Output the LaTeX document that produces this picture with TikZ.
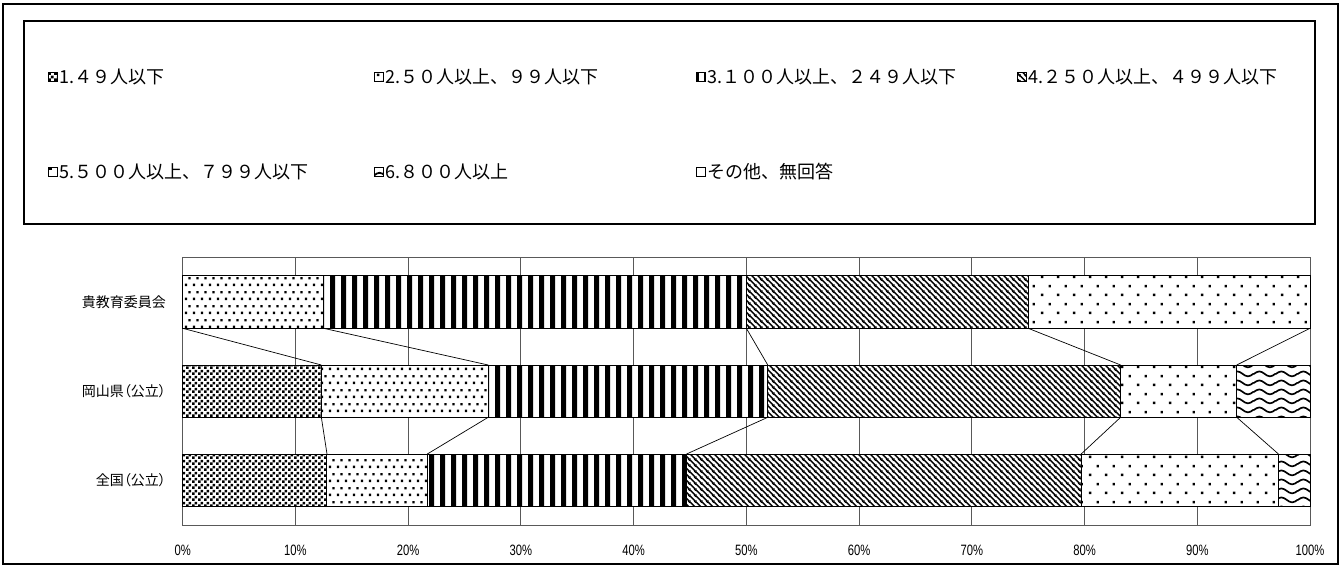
\documentclass[tikz,border=0pt]{standalone}
\usepackage{fontspec}
\setmainfont{Noto Sans CJK JP}
\newfontfamily\catfont[RawFeature=+palt]{Noto Sans CJK JP}
\newfontfamily\tickfont[FakeStretch=0.75]{Liberation Sans}
\usetikzlibrary{patterns.meta}

% fill patterns of the six answer groups
\tikzdeclarepattern{name=chk, type=uncolored,
  bounding box={(0pt,0pt) and (6pt,6pt)}, tile size={(6pt,6pt)},
  code={\fill (0pt,0pt) rectangle (3pt,3pt); \fill (3pt,3pt) rectangle (6pt,6pt);}}
\tikzdeclarepattern{name=dts, type=uncolored,
  bounding box={(0pt,0pt) and (8pt,14pt)}, tile size={(8pt,14pt)},
  code={\fill (1pt,1pt) rectangle (3.5pt,3.5pt); \fill (5pt,8pt) rectangle (7.5pt,10.5pt);}}
\tikzdeclarepattern{name=vstr, type=uncolored,
  bounding box={(0pt,0pt) and (11pt,220pt)}, tile size={(11pt,220pt)},
  code={\fill (0pt,-1pt) rectangle (5.5pt,221pt);}}
\tikzdeclarepattern{name=nwl, type=uncolored,
  bounding box={(0pt,0pt) and (6pt,6pt)}, tile size={(6pt,6pt)},
  code={\draw[line width=1.6pt] (-1pt,7pt) -- (7pt,-1pt) (-1pt,1pt) -- (1pt,-1pt) (5pt,7pt) -- (7pt,5pt);}}
\tikzdeclarepattern{name=spd, type=uncolored,
  bounding box={(0pt,0pt) and (16pt,18pt)}, tile size={(16pt,18pt)},
  code={\fill (1pt,1pt) rectangle (3.5pt,3.5pt); \fill (9pt,10pt) rectangle (11.5pt,12.5pt);}}
\tikzdeclarepattern{name=wav, type=uncolored,
  bounding box={(0pt,0pt) and (22pt,9pt)}, tile size={(22pt,9pt)},
  code={\draw[line width=1.8pt] (-1pt,4.5pt) -- (0pt,4.5pt) sin (5.5pt,7.2pt) cos (11pt,4.5pt) sin (16.5pt,1.8pt) cos (22pt,4.5pt) -- (23pt,4.5pt);}}

\tikzset{
  frame/.style={line width=1.4pt},
  legmark/.style={draw, line width=0.9pt, minimum size=9pt, inner sep=0pt},
  legtext/.style={anchor=west, inner sep=0pt, font=\fontsize{18}{18}\selectfont},
  catlabel/.style={anchor=east, inner sep=0pt, font=\catfont\fontsize{14}{14}\selectfont},
  ticklabel/.style={inner sep=0pt, font=\tickfont\fontsize{15}{15}\selectfont},
  gridline/.style={draw=black!65, line width=0.9pt},
  segbox/.style={draw, line width=1pt, preaction={fill=white}},
  serieslink/.style={line width=0.7pt}
}

\begin{document}
\begin{tikzpicture}[x=1pt,y=-1pt]
    \useasboundingbox (0,0) rectangle (1342,567);

    % outer frame and legend box
    \draw[frame] (3,4) rectangle (1338,564);
    \draw[frame] (24,21) rectangle (1315,224);

    \foreach \x/\y/\pat/\txt [count=\n] in {
        53/77/chk/{1.４９人以下},
        379/77/dts/{2.５０人以上、９９人以下},
        701/77/vstr/{3.１００人以上、２４９人以下},
        1022/77/nwl/{4.２５０人以上、４９９人以下},
        53/172/spd/{5.５００人以上、７９９人以下},
        379/172/wav/{6.８００人以上}} {
        \node[legmark, pattern/.expanded=\pat] (m\n) at (\x,\y) {};
        \node[legtext] (l\n) at ([xshift=1.5pt]m\n.east) {\txt};
    }
    \node[legmark] (m7) at (701,172) {};
    \node[legtext] (l7) at ([xshift=1.5pt]m7.east) {その他、無回答};

    \begin{scope}[shift={(182.7,0)}, x=11.273pt]

        % grid and tick labels
        \draw[gridline] foreach \i in {0,...,10} {(10*\i,257) -- (10*\i,525)};
        \draw[gridline] (0,257) rectangle (100,525);
        \foreach \i in {0,...,10} {
            \pgfmathtruncatemacro{\v}{10*\i}
            \node[ticklabel] (t\i) at (10*\i,550) {\v\%};
        }

        % 貴教育委員会
        \foreach \a/\b/\pat in {0/12.5/dts,12.5/50/vstr,50/75/nwl,75/100/spd}
            \draw[segbox, pattern/.expanded=\pat] (\a,275.7) rectangle (\b,328.3);
        \foreach \v [count=\k] in {0,12.5,50,75,100}
            \coordinate (g\k) at (\v,328.3);

        % 岡山県（公立）
        \foreach \a/\b/\pat in {0/12.3/chk,12.3/27.1/dts,27.1/51.9/vstr,51.9/83.2/nwl,83.2/93.5/spd,93.5/100/wav}
            \draw[segbox, pattern/.expanded=\pat] (\a,365) rectangle (\b,417.3);
        \foreach \v [count=\k] in {12.3,27.1,51.9,83.2,93.5} {
            \coordinate (o\k) at (\v,365);
            \coordinate (p\k) at (\v,417.3);
        }

        % 全国（公立）
        \foreach \a/\b/\pat in {0/12.8/chk,12.8/21.7/dts,21.7/44.7/vstr,44.7/79.7/nwl,79.7/97.2/spd,97.2/100/wav}
            \draw[segbox, pattern/.expanded=\pat] (\a,454) rectangle (\b,506.7);
        \foreach \v [count=\k] in {12.8,21.7,44.7,79.7,97.2}
            \coordinate (z\k) at (\v,454);

        % series lines
        \foreach \k in {1,...,5} {
            \draw[serieslink] (g\k) -- (o\k);
            \draw[serieslink] (p\k) -- (z\k);
        }

    \end{scope}

    \node[catlabel] (c1) at (166,302) {貴教育委員会};
    \node[catlabel] (c2) at (166,391) {岡山県（公立）};
    \node[catlabel] (c3) at (166,480) {全国（公立）};

\end{tikzpicture}
\end{document}
